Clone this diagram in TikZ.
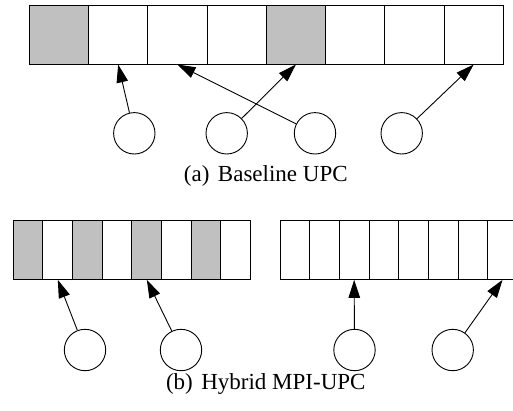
\documentclass[tikz,border=0pt]{standalone}
\usepackage{fontspec}
\setmainfont{Liberation Serif}
\usetikzlibrary{arrows.meta}
\definecolor{shade}{RGB}{192,192,192}
\tikzset{
  cell/.style={draw, line width=1pt, inner sep=0pt, minimum width=59.25pt, minimum height=59pt},
  narrow/.style={cell, minimum width=29.67pt, minimum height=59.3pt},
  proc/.style={circle, draw, line width=0.9pt, inner sep=0pt, minimum size=41.4pt},
  ptr/.style={-{Triangle[length=18pt,width=11.5pt]}, line width=0.9pt},
  caption/.style={font=\fontsize{23}{27}\selectfont}
}

\begin{document}
\begin{tikzpicture}[x=1pt,y=-1pt]
  \useasboundingbox (0,0) rectangle (513,410);

  % (a) one shared array
  \foreach \i/\f in {1/shade,2/white,3/white,4/white,5/shade,6/white,7/white,8/white}
    \node[cell,fill=\f] (a\i) at ({29.3+59.25*(\i-0.5)},34.5) {};

  \node[proc] (p1) at (134.3,133.3) {};
  \node[proc] (p2) at (226.7,133.3) {};
  \node[proc] (p3) at (315,133.3) {};
  \node[proc] (p4) at (401.7,133.3) {};

  \draw[ptr] (p1) -- (a2.south);
  \draw[ptr] (p2) -- (a5.south);
  \draw[ptr] (p3) -- (a3.south);
  \draw[ptr] (p4) -- (a8.south);

  \node[caption] (capa) at (265.8,175.5) {(a)\hspace{0.12em} Baseline UPC};

  % (b) two arrays
  \foreach \i/\f in {1/shade,2/white,3/shade,4/white,5/shade,6/white,7/shade,8/white}
    \node[narrow,fill=\f] (b\i) at ({13.3+29.67*(\i-0.5)},249.7) {};
  \foreach \i in {1,...,8}
    \node[narrow,fill=white] (c\i) at ({280+29.67*(\i-0.5)},249.7) {};

  \node[proc] (q1) at (85,350) {};
  \node[proc] (q2) at (181,350) {};
  \node[proc] (q3) at (354.5,350) {};
  \node[proc] (q4) at (452.7,350) {};

  \draw[ptr] (q1) -- (b2.south);
  \draw[ptr] (q2) -- (b5.south);
  \draw[ptr] (q3) -- (c3.south);
  \draw[ptr] (q4) -- (c8.south);

  \node[caption] (capb) at (265.8,383.5) {(b)\hspace{0.12em} Hybrid MPI-UPC};
\end{tikzpicture}
\end{document}
